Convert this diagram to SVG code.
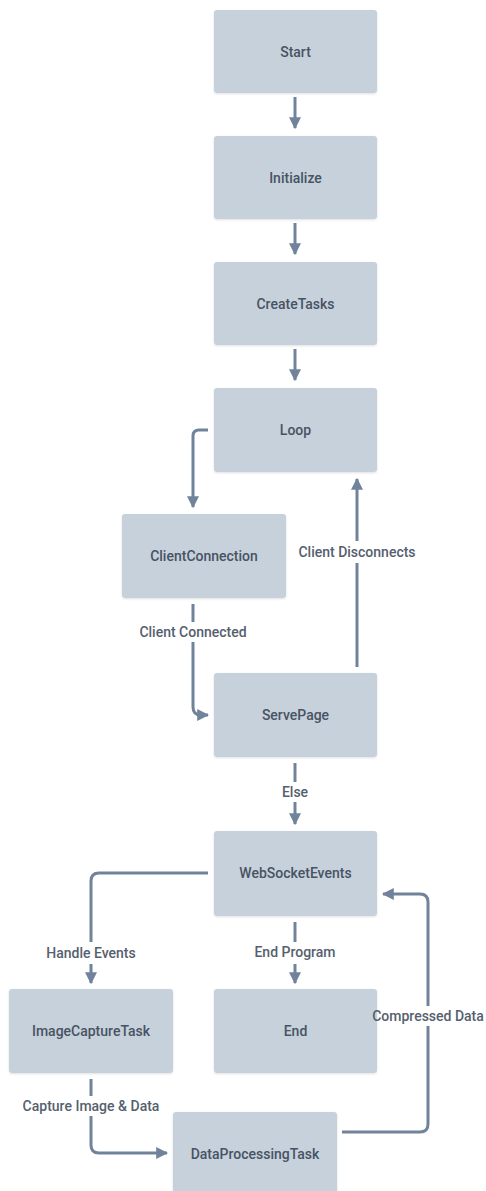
<svg xmlns="http://www.w3.org/2000/svg" width="486" height="1191" viewBox="0 0 486 1191">
  <defs>
    <marker id="arrow" viewBox="0 0 10 10" refX="9" refY="5" markerWidth="4" markerHeight="4" orient="auto" markerUnits="strokeWidth">
      <path d="M0,0 L10,5 L0,10 z" fill="#71839a"/>
    </marker>
    <filter id="shadow" x="-10%" y="-10%" width="120%" height="130%">
      <feDropShadow dx="0" dy="1" stdDeviation="1.2" flood-color="#000" flood-opacity="0.12"/>
    </filter>
  </defs>
  <style>
    .node rect { fill: #c6d1dc; filter: url(#shadow); }
    .node text { font-family: Roboto, "Liberation Sans", sans-serif; font-weight: 500; font-size: 14px; fill: #485363; text-anchor: middle; dominant-baseline: central; }
    .edge { fill: none; stroke: #71839a; stroke-width: 3; stroke-linejoin: round; }
    .lbl-bg { fill: #ffffff; }
    .lbl { font-family: Roboto, "Liberation Sans", sans-serif; font-weight: 500; font-size: 14px; fill: #55606e; text-anchor: middle; dominant-baseline: central; }
  </style>
  <rect width="486" height="1191" fill="#ffffff"/>

  <g id="connectors">
    <path class="edge" d="M295,97 V128" marker-end="url(#arrow)"/>
    <path class="edge" d="M295,223 V254" marker-end="url(#arrow)"/>
    <path class="edge" d="M295,349 V380" marker-end="url(#arrow)"/>
    <path class="edge" d="M208,430 H199 Q193,430 193,436 V507" marker-end="url(#arrow)"/>
    <path class="edge" d="M193,604 V707 Q193,715 201,715 H208" marker-end="url(#arrow)"/>
    <path class="edge" d="M357,667 V479" marker-end="url(#arrow)"/>
    <path class="edge" d="M295,763 V824" marker-end="url(#arrow)"/>
    <path class="edge" d="M208,873 H99 Q91,873 91,881 V983" marker-end="url(#arrow)"/>
    <path class="edge" d="M295,922 V983" marker-end="url(#arrow)"/>
    <path class="edge" d="M342,1132 H420 Q428,1132 428,1124 V902 Q428,894 420,894 H383" marker-end="url(#arrow)"/>
    <path class="edge" d="M91,1079 V1145 Q91,1153 99,1153 H167" marker-end="url(#arrow)"/>
  </g>

  <g id="node-start" class="node"><rect x="214" y="10" width="163" height="83" rx="3"/><text x="295.5" y="51.5">Start</text></g>
  <g id="node-initialize" class="node"><rect x="214" y="136" width="163" height="83" rx="3"/><text x="295.5" y="177.5">Initialize</text></g>
  <g id="node-createtasks" class="node"><rect x="214" y="262" width="163" height="83" rx="3"/><text x="295.5" y="303.5">CreateTasks</text></g>
  <g id="node-loop" class="node"><rect x="214" y="388" width="163" height="84" rx="3"/><text x="295.5" y="430">Loop</text></g>
  <g id="node-clientconnection" class="node"><rect x="122" y="514" width="164" height="84" rx="3"/><text x="204" y="556">ClientConnection</text></g>
  <g id="node-servepage" class="node"><rect x="214" y="673" width="163" height="84" rx="3"/><text x="295.5" y="715">ServePage</text></g>
  <g id="node-websocketevents" class="node"><rect x="214" y="831" width="163" height="85" rx="3"/><text x="295.5" y="873">WebSocketEvents</text></g>
  <g id="node-imagecapturetask" class="node"><rect x="9" y="989" width="164" height="84" rx="3"/><text x="91" y="1031">ImageCaptureTask</text></g>
  <g id="node-end" class="node"><rect x="214" y="989" width="163" height="84" rx="3"/><text x="295.5" y="1031">End</text></g>
  <g id="node-dataprocessingtask" class="node"><rect x="173" y="1112" width="164" height="84" rx="3"/><text x="255" y="1154">DataProcessingTask</text></g>

  <!-- edge labels, drawn last; white backing breaks the lines around them -->
  <g id="edge-labels">
    <rect class="lbl-bg" x="130" y="622" width="126" height="20"/>
    <text class="lbl" x="193" y="632">Client Connected</text>
    <rect class="lbl-bg" x="292" y="541" width="130" height="22"/>
    <text class="lbl" x="357" y="552">Client Disconnects</text>
    <rect class="lbl-bg" x="277" y="782" width="36" height="20"/>
    <text class="lbl" x="295" y="792">Else</text>
    <rect class="lbl-bg" x="38" y="942" width="106" height="22"/>
    <text class="lbl" x="91" y="953">Handle Events</text>
    <rect class="lbl-bg" x="246" y="942" width="98" height="22"/>
    <text class="lbl" x="295" y="952">End Program</text>
    <rect class="lbl-bg" x="410" y="1006" width="36" height="20"/>
    <text class="lbl" x="428" y="1016">Compressed Data</text>
    <rect class="lbl-bg" x="16" y="1096" width="150" height="20"/>
    <text class="lbl" x="91" y="1106">Capture Image &amp; Data</text>
  </g>
</svg>
